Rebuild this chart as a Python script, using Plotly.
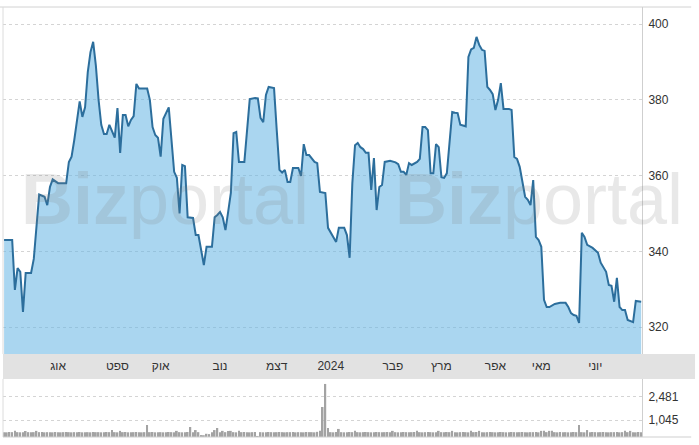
import plotly.graph_objects as go

# ---- data -------------------------------------------------------------
# trading-day index of each vertex of the closing-price line
day = [0, 3, 4, 5, 6, 7, 8, 10, 11, 13, 15, 16, 17, 18, 20, 23, 24, 25, 26, 28,
       29, 30, 31, 32, 33, 34, 35, 36, 37, 38, 39, 40, 41, 42, 43, 44, 45, 46, 47, 48,
       49, 50, 53, 54, 55, 56, 57, 58, 59, 61, 62, 63, 64, 65, 66, 67, 68, 70, 71, 72,
       74, 75, 77, 78, 79, 80, 81, 82, 83, 84, 85, 86, 87, 89, 91, 93, 94, 95, 96, 97,
       98, 100, 101, 102, 103, 104, 105, 106, 107, 109, 110, 111, 112, 113, 115, 116, 117, 118, 119, 120,
       122, 123, 124, 126, 127, 128, 129, 130, 131, 132, 133, 134, 135, 136, 137, 138, 139, 140, 141, 143,
       145, 146, 147, 148, 149, 150, 151, 153, 154, 155, 156, 157, 158, 159, 160, 161, 162, 163, 164, 165,
       166, 167, 168, 169, 171, 172, 173, 174, 175, 176, 177, 178, 179, 180, 181, 182, 183, 184, 185, 187,
       188, 189, 190, 191, 192, 193, 194, 195, 196, 197, 198, 199, 200, 201, 202, 204, 206, 208, 209, 210,
       211, 212, 213, 214, 215, 216, 218, 220, 221, 222, 223, 224, 225, 226, 227, 228, 229, 230, 231, 233,
       234, 236]

close = [343, 343, 329.8, 335.6, 334.6, 324, 334.3, 334.3, 338, 355, 354.4, 352.2, 357, 359, 358, 358, 363.6, 365, 369.4, 379.6,
         375.5, 378, 387.3, 392.6, 395.3, 389, 380, 373.4, 371, 371, 373.4, 371.5, 370, 377.8, 366, 376, 376, 373, 374.7, 375.7,
         384.2, 383, 383, 380, 372.8, 370.7, 370, 365, 375, 378, 369.4, 361, 359.4, 350, 362.8, 362.5, 349, 348.8, 344.3, 344.3,
         336.4, 341.2, 341.2, 349, 349.6, 350.4, 349, 345.6, 350.4, 355.4, 371.2, 371.5, 363.6, 363.6, 380.2, 380.5, 380.4, 375.2, 374.1, 381.3,
         383.4, 383.1, 372, 361.5, 360.8, 361.5, 358.3, 358.3, 362, 362, 359.9, 368.3, 365.4, 365.4, 363.6, 363.3, 355.7, 355.5, 355.4, 346.2,
         343.5, 342.5, 346.2, 346.2, 344.3, 338.3, 358, 368, 368.6, 367.5, 367, 366, 366, 356.2, 364.6, 350.9, 357, 357.5, 363.6, 363.9,
         363.5, 363, 361, 361, 360.2, 363.3, 362.8, 363.6, 364.4, 372.8, 372.8, 372, 360.6, 360.6, 368.3, 367.5, 359.6, 359.4, 360.6, 368.5,
         376.8, 376.6, 376.5, 373.4, 373, 391.3, 393.3, 393.7, 396.6, 394.5, 393.2, 392.9, 383.4, 382.6, 381.5, 377.3, 380, 384.4, 377.6, 377.6,
         377.3, 364.9, 364.4, 362.3, 358.8, 354.4, 353.6, 352.2, 358.8, 343.8, 343, 341.2, 327.2, 325.3, 325.3, 326.1, 326.4, 326.4, 325.3, 323.7,
         323.2, 323, 321.1, 344.9, 343.8, 341.7, 340.9, 339.6, 337, 335.6, 334.6, 331.1, 330.9, 326.7, 333, 325.3, 324.5, 324.5, 321.9, 321.3,
         326.9, 326.7]

# daily volume, one value per trading day 0..236
volume = [300, 290, 310, 300, 380, 300, 290, 300, 370, 300,
          290, 300, 380, 300, 310, 290, 300, 300, 290, 310,
          300, 290, 300, 310, 300, 290, 300, 300, 310, 290,
          300, 300, 290, 310, 300, 300, 290, 300, 310, 300,
          430, 300, 290, 380, 300, 310, 290, 300, 300, 310,
          300, 290, 300, 745, 300, 310, 290, 300, 300, 290,
          300, 310, 300, 290, 380, 300, 290, 300, 310, 620,
          300, 430, 300, 120, 110, 200, 180, 300, 430, 560,
          300, 380, 300, 370, 380, 300, 290, 380, 300, 310,
          300, 290, 300, 310, 60, 300, 290, 300, 310, 300,
          290, 300, 310, 300, 290, 300, 300, 310, 290, 300,
          300, 290, 310, 300, 300, 290, 320, 380, 1860, 3290,
          560, 300, 290, 310, 500, 300, 290, 300, 310, 300,
          380, 300, 290, 300, 310, 300, 290, 300, 310, 300,
          290, 300, 310, 300, 380, 300, 290, 300, 310, 300,
          290, 300, 310, 380, 300, 290, 300, 310, 300, 290,
          300, 380, 300, 290, 310, 300, 380, 300, 290, 300,
          310, 300, 290, 380, 300, 310, 380, 300, 290, 300,
          310, 300, 290, 300, 310, 300, 290, 300, 310, 300,
          290, 300, 310, 300, 290, 300, 300, 310, 290, 380,
          380, 300, 380, 380, 300, 290, 310, 300, 300, 290,
          300, 310, 300, 745, 300, 290, 430, 300, 310, 300,
          290, 300, 310, 300, 290, 300, 300, 310, 290, 300,
          380, 300, 380, 300, 290, 310, 300]
vol_day = list(range(len(volume)))

month_day = [20, 42, 58, 80, 101, 121, 144, 162, 182, 199, 219]
month_label = ['אוג', 'ספט', 'אוק', 'נוב', 'דצמ', '2024', 'פבר', 'מרץ', 'אפר', 'מאי', 'יוני']

price_ticks = [320, 340, 360, 380, 400]
vol_ticks = [1045, 2481]
vol_tick_text = ['1,045', '2,481']

# ---- figure -----------------------------------------------------------
FONT = 'Arial, "Liberation Sans", "DejaVu Sans", sans-serif'
fig = go.Figure()

fig.add_trace(go.Scatter(
    x=day, y=close, mode='lines', fill='tozeroy',
    line=dict(color='#2c6e9c', width=2),
    fillcolor='rgba(100,180,228,0.55)',
    xaxis='x', yaxis='y', hoverinfo='skip', showlegend=False))

fig.add_trace(go.Bar(
    x=vol_day, y=volume, marker=dict(color='#a3a3a3', line=dict(width=0)),
    xaxis='x2', yaxis='y2', hoverinfo='skip', showlegend=False))

xr = [-0.4, 236.3]
PRICE_DOM = [0.193, 1.0]
VOL_DOM = [0.0, 0.135]

fig.update_layout(
    width=699, height=445,
    margin=dict(l=3, r=57, t=7, b=8),
    paper_bgcolor='white', plot_bgcolor='white',
    font=dict(family=FONT, size=12, color='#333'),
    bargap=0.35,
    xaxis=dict(domain=[0, 1], anchor='y', range=xr, showgrid=False, zeroline=False,
               showline=False, ticks='', tickvals=month_day, ticktext=month_label,
               ticklabelstandoff=3, tickfont=dict(size=12, color='#333')),
    yaxis=dict(domain=PRICE_DOM, anchor='x', side='right', range=[312.9, 404.5],
               tickvals=price_ticks, showgrid=True, gridcolor='#d4d4d4', griddash='dot',
               zeroline=False, showline=True, linecolor='#cfcfcf', linewidth=1, ticks='',
               ticklabelstandoff=3, tickfont=dict(size=12, color='#333')),
    xaxis2=dict(domain=[0, 1], anchor='y2', range=xr, matches='x', showgrid=False,
                zeroline=False, showline=False, showticklabels=False, ticks=''),
    yaxis2=dict(domain=VOL_DOM, anchor='x2', side='right', range=[0, 3600],
                tickvals=vol_ticks, ticktext=vol_tick_text, showgrid=True,
                gridcolor='#d4d4d4', griddash='dot', zeroline=False, showline=True,
                linecolor='#cfcfcf', linewidth=1, ticks='', ticklabelstandoff=3,
                tickfont=dict(size=12, color='#333')),
)

# month band, frame lines
fig.add_shape(type='rect', xref='paper', yref='paper', x0=0, x1=1.083,
              y0=VOL_DOM[1], y1=PRICE_DOM[0], fillcolor='#e2e2e2', line=dict(width=0),
              layer='below')
fig.add_shape(type='line', xref='paper', yref='paper', x0=-0.005, x1=1.077, y0=1, y1=1,
              line=dict(color='#d2d2d2', width=1))
fig.add_shape(type='line', xref='paper', yref='paper', x0=0, x1=0, y0=PRICE_DOM[0], y1=1,
              line=dict(color='#dcdcdc', width=1))
fig.add_shape(type='line', xref='paper', yref='paper', x0=0, x1=0, y0=0, y1=VOL_DOM[1],
              line=dict(color='#dcdcdc', width=1))
fig.add_shape(type='line', xref='paper', yref='paper', x0=0, x1=1.077, y0=0, y1=0,
              line=dict(color='#cfcfcf', width=1))

# watermark
for xc in (0.2535, 0.839):
    fig.add_annotation(text='<b>Biz</b>portal', xref='paper', yref='paper', x=xc, y=0.554,
                       xanchor='center', yanchor='middle', showarrow=False,
                       font=dict(family=FONT, size=72, color='rgba(128,128,128,0.18)'))

fig.write_html('out.html', config={'displayModeBar': False},
               post_script="document.body.style.margin='0';")
